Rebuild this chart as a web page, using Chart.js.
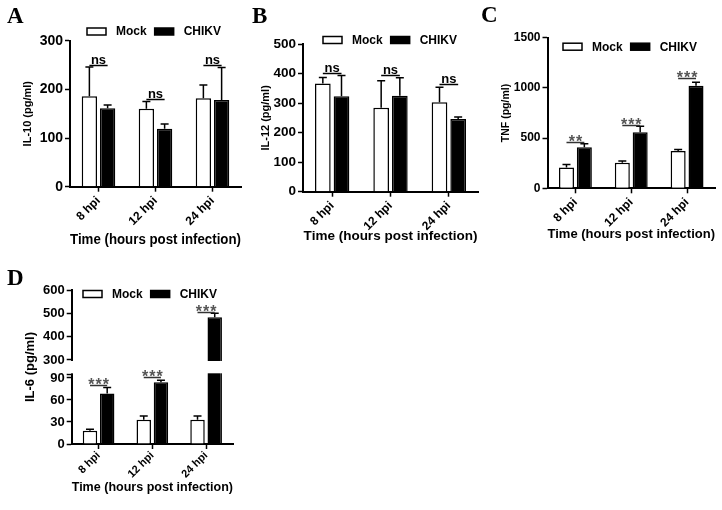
<!DOCTYPE html>
<html>
<head>
<meta charset="utf-8">
<script src="https://cdn.jsdelivr.net/npm/chart.js@4/dist/chart.umd.min.js"></script>
<style>
html,body{margin:0;padding:0;background:#fff;}
#wrap{position:relative;width:722px;height:510px;overflow:hidden;background:#fff;}
canvas{position:absolute;}
</style>
</head>
<body>
<div id="wrap">
<canvas id="cA"></canvas>
<canvas id="cB"></canvas>
<canvas id="cC"></canvas>
<canvas id="cD"></canvas>
</div>
<script>
// ---------------- DATA ----------------
const categories = ['8 hpi', '12 hpi', '24 hpi'];
const seriesNames = ['Mock', 'CHIKV'];
const xAxisTitle = 'Time (hours post infection)';

// A: IL-10
const il10Mock = [186, 160, 182];
const il10MockSd = [60, 15, 27];
const il10Chikv = [161, 119, 178];
const il10ChikvSd = [7, 10, 67];
const il10Sig = ['ns', 'ns', 'ns'];
const il10SigAt = [251, 180, 250];
const il10Ticks = [0, 100, 200, 300];

// B: IL-12
const il12Mock = [366, 284, 303];
const il12MockSd = [21, 92, 51];
const il12Chikv = [323, 325, 246];
const il12ChikvSd = [70, 61, 7];
const il12Sig = ['ns', 'ns', 'ns'];
const il12SigAt = [403, 396, 365];
const il12Ticks = [0, 100, 200, 300, 400, 500];

// C: TNF
const tnfMock = [208, 255, 371];
const tnfMockSd = [28, 17, 15];
const tnfChikv = [408, 559, 1022];
const tnfChikvSd = [35, 58, 35];
const tnfSig = ['**', '***', '***'];
const tnfSigAt = [460, 635, 1095];
const tnfTicks = [0, 500, 1000, 1500];

// D: IL-6 (broken axis)
const il6Mock = [18, 33, 33];
const il6MockSd = [2, 5, 5];
const il6Chikv = [69, 84, 483];
const il6ChikvSd = [8, 3, 17];
const il6Sig = ['***', '***', '***'];
const il6SigAt = [80, 91, 506];
const il6Ticks = [0, 30, 60, 90, 300, 400, 500, 600];

// ---------------- SETUP ----------------
const SANS = 'Arial, "Liberation Sans", Helvetica, sans-serif';
const SERIF = '"Liberation Serif", "Times New Roman", Times, serif';
Chart.defaults.font.family = SANS;
Chart.defaults.font.weight = 'bold';
Chart.defaults.color = '#000';

// Linear scale with a break (two linear segments and a gap)
class BrokenLinearScale extends Chart.LinearScale {
  _seg() {
    const b = this.options.brokenAxis;
    return {lo: b.low, hi: b.high, fl: b.lowFraction, fg: b.gapFraction};
  }
  getPixelForValue(value) {
    if (value === null || value === undefined || isNaN(value)) return NaN;
    const {lo, hi, fl, fg} = this._seg();
    const min = this.min, max = this.max;
    let d;
    if (value <= lo) d = (value - min) / (lo - min) * fl;
    else if (value < hi) d = fl + (value - lo) / (hi - lo) * fg;
    else d = fl + fg + (value - hi) / (max - hi) * (1 - fl - fg);
    return this.getPixelForDecimal(d);
  }
  getValueForPixel(pixel) {
    const {lo, hi, fl, fg} = this._seg();
    const d = this.getDecimalForPixel(pixel);
    if (d <= fl) return this.min + d / fl * (lo - this.min);
    if (d < fl + fg) return lo + (d - fl) / fg * (hi - lo);
    return hi + (d - fl - fg) / (1 - fl - fg) * (this.max - hi);
  }
}
BrokenLinearScale.id = 'brokenLinear';
BrokenLinearScale.defaults = Chart.LinearScale.defaults;
Chart.register(BrokenLinearScale);

const decoPlugin = {
  id: 'deco',
  afterDatasetsDraw(chart, args, o) {
    const ctx = chart.ctx, ca = chart.chartArea, ys = chart.scales.y;
    ctx.save();
    // gap of the broken axis
    if (o.gap) {
      const yT = ys.getPixelForValue(o.gap[1]);
      const yB = ys.getPixelForValue(o.gap[0]);
      ctx.fillStyle = '#fff';
      ctx.fillRect(ca.left - 4, yT + 1, ca.right - ca.left + 8, yB - yT - 2);
    }
    // error bars (upper only)
    chart.data.datasets.forEach((ds, di) => {
      const meta = chart.getDatasetMeta(di);
      meta.data.forEach((bar, i) => {
        const v = ds.data[i], e = ds.errors[i];
        const y0 = ys.getPixelForValue(v), y1 = ys.getPixelForValue(v + e);
        ctx.strokeStyle = '#000';
        ctx.lineWidth = 1.5;
        ctx.beginPath();
        ctx.moveTo(bar.x, y0);
        ctx.lineTo(bar.x, y1);
        ctx.moveTo(bar.x - 4, y1);
        ctx.lineTo(bar.x + 4, y1);
        ctx.stroke();
      });
    });
    // significance brackets
    const m0 = chart.getDatasetMeta(0), m1 = chart.getDatasetMeta(1);
    o.sig.forEach((lab, i) => {
      const x1 = m0.data[i].x, x2 = m1.data[i].x;
      const y = Math.round(ys.getPixelForValue(o.sigAt[i])) + 0.5;
      ctx.strokeStyle = o.sigLineColor;
      ctx.lineWidth = 1.5;
      ctx.beginPath();
      ctx.moveTo(x1, y);
      ctx.lineTo(x2, y);
      ctx.stroke();
      ctx.textAlign = 'center';
      ctx.textBaseline = 'alphabetic';
      if (lab.indexOf('*') >= 0) {
        ctx.font = 'bold 16px ' + SANS;
        ctx.fillStyle = o.sigTextColor;
        try { ctx.letterSpacing = '1px'; } catch (e) {}
        ctx.fillText(lab, (x1 + x2) / 2 + 0.5, y + 4.5);
        try { ctx.letterSpacing = '0px'; } catch (e) {}
      } else {
        ctx.font = 'bold 13px ' + SANS;
        ctx.fillStyle = o.sigTextColor;
        ctx.fillText(lab, (x1 + x2) / 2, y - 2);
      }
    });
    ctx.restore();
  },
  afterDraw(chart, args, o) {
    const ctx = chart.ctx;
    ctx.save();
    // panel letter
    ctx.font = 'bold 23px ' + SERIF;
    ctx.fillStyle = '#000';
    ctx.textAlign = 'left';
    ctx.textBaseline = 'alphabetic';
    ctx.fillText(o.letter, o.letterX, o.letterY);
    // legend
    ctx.font = 'bold 12px ' + SANS;
    ctx.textBaseline = 'middle';
    let x = o.legendX;
    const yc = o.legendY, bw = o.boxW, bh = 7;
    chart.data.datasets.forEach((ds) => {
      ctx.fillStyle = ds.backgroundColor;
      ctx.fillRect(x, yc - bh / 2, bw, bh);
      ctx.strokeStyle = '#000';
      ctx.lineWidth = 1.5;
      ctx.strokeRect(x, yc - bh / 2, bw, bh);
      x += bw + 10;
      ctx.fillStyle = '#000';
      ctx.fillText(ds.label, x, yc + 0.5);
      x += ctx.measureText(ds.label).width + 8;
    });
    ctx.restore();
  }
};

function panel(id, g, d) {
  const cv = document.getElementById(id);
  cv.width = g.cw; cv.height = g.ch;
  cv.style.left = g.cx + 'px'; cv.style.top = g.cy + 'px';
  cv.style.width = g.cw + 'px'; cv.style.height = g.ch + 'px';
  const L = g.left - g.cx, R = g.right - g.cx, T = g.top - g.cy, B = g.bottom - g.cy;
  const xH = g.ch - B;
  const xLh = g.xTitleSize * 1.2;
  const xTitlePadBottom = g.ch - (g.xTitleY - g.cy) - xLh / 2;
  const yLh = g.yTitleSize * 1.2;
  const yTitlePadTop = (g.yTitleX - g.cx) - yLh / 2;
  const tickList = d.ticks.concat(d.extraTicks || []);

  const yScale = {
    type: g.broken ? 'brokenLinear' : 'linear',
    min: d.ticks[0],
    max: d.ticks[d.ticks.length - 1],
    afterBuildTicks: (s) => { s.ticks = tickList.map(v => ({value: v})); },
    afterFit: (s) => { s.width = L; },
    grid: {display: true, drawOnChartArea: false, drawTicks: true, tickLength: 5, tickWidth: 1.5, tickColor: '#000'},
    border: {display: true, color: '#000', width: 2},
    ticks: {
      font: {size: g.yTickSize, weight: 'bold'}, color: '#000', padding: 2,
      callback: (v) => d.ticks.includes(v) ? String(v) : ''
    },
    title: {display: true, text: d.yTitle, color: '#000',
      font: {size: g.yTitleSize, weight: 'bold'}, padding: {top: yTitlePadTop, bottom: 0}}
  };
  if (g.broken) yScale.brokenAxis = g.broken;

  new Chart(cv, {
    type: 'bar',
    data: {
      labels: categories,
      datasets: [
        {label: seriesNames[0], data: d.mock, errors: d.mockSd, backgroundColor: '#fff',
         borderColor: '#000', borderWidth: 1.5},
        {label: seriesNames[1], data: d.chikv, errors: d.chikvSd, backgroundColor: '#000',
         borderColor: '#000', borderWidth: 1.5}
      ]
    },
    options: {
      responsive: false, animation: false, devicePixelRatio: 1,
      layout: {padding: {left: 0, top: T, right: g.cw - R, bottom: 0}},
      datasets: {bar: {categoryPercentage: 0.64, barPercentage: 0.84}},
      plugins: {
        legend: {display: false}, tooltip: {enabled: false},
        deco: {
          letter: d.letter, letterX: g.letterX - g.cx, letterY: g.letterY - g.cy,
          legendX: g.legendX - g.cx, legendY: g.legendY - g.cy, boxW: g.boxW,
          sig: d.sig, sigAt: d.sigAt, sigLineColor: g.sigLineColor, sigTextColor: g.sigTextColor,
          gap: g.broken ? [g.broken.low, g.broken.high] : null
        }
      },
      scales: {
        x: {
          offset: true,
          afterFit: (s) => { s.height = xH; },
          grid: {display: true, drawOnChartArea: false, offset: false, drawTicks: true, tickLength: 5, tickWidth: 1.5, tickColor: '#000'},
          border: {display: true, color: '#000', width: 2},
          ticks: {font: {size: g.xTickSize, weight: 'bold'}, color: '#000', maxRotation: 45, minRotation: 45, padding: g.xTickPad, autoSkip: false},
          title: {display: true, text: xAxisTitle, color: '#000',
            font: {size: g.xTitleSize, weight: 'bold'}, padding: {top: 0, bottom: xTitlePadBottom}}
        },
        y: yScale
      }
    },
    plugins: [decoPlugin]
  });
}

panel('cA', {cx: 0, cy: 0, cw: 248, ch: 252, left: 70, right: 241, top: 40.7, bottom: 186.7,
  yTitleX: 28, xTitleY: 240, yTitleSize: 11, xTitleSize: 14.5, yTickSize: 14, xTickSize: 12, xTickPad: 2,
  letterX: 7, letterY: 23.3, legendX: 87, legendY: 31.5, boxW: 19,
  sigLineColor: '#000', sigTextColor: '#000'},
  {letter: 'A', yTitle: 'IL-10 (pg/ml)', mock: il10Mock, mockSd: il10MockSd, chikv: il10Chikv,
   chikvSd: il10ChikvSd, sig: il10Sig, sigAt: il10SigAt, ticks: il10Ticks});

panel('cB', {cx: 246, cy: 0, cw: 236, ch: 252, left: 303, right: 478, top: 44, bottom: 191.7,
  yTitleX: 266, xTitleY: 236, yTitleSize: 11, xTitleSize: 13.5, yTickSize: 13.5, xTickSize: 12, xTickPad: 2,
  letterX: 252, letterY: 23.3, legendX: 323, legendY: 40, boxW: 19,
  sigLineColor: '#000', sigTextColor: '#000'},
  {letter: 'B', yTitle: 'IL-12 (pg/ml)', mock: il12Mock, mockSd: il12MockSd, chikv: il12Chikv,
   chikvSd: il12ChikvSd, sig: il12Sig, sigAt: il12SigAt, ticks: il12Ticks});

panel('cC', {cx: 479, cy: 0, cw: 243, ch: 252, left: 547.5, right: 715, top: 37.7, bottom: 188.3,
  yTitleX: 506, xTitleY: 234, yTitleSize: 10.5, xTitleSize: 13.7, yTickSize: 12, xTickSize: 12, xTickPad: 2,
  letterX: 481, letterY: 22, legendX: 563, legendY: 46.7, boxW: 19,
  sigLineColor: '#333', sigTextColor: '#555'},
  {letter: 'C', yTitle: 'TNF (pg/ml)', mock: tnfMock, mockSd: tnfMockSd, chikv: tnfChikv,
   chikvSd: tnfChikvSd, sig: tnfSig, sigAt: tnfSigAt, ticks: tnfTicks});

panel('cD', {cx: 0, cy: 255, cw: 248, ch: 255, left: 71.7, right: 233, top: 290, bottom: 444,
  yTitleX: 30, xTitleY: 487, yTitleSize: 13, xTitleSize: 13.6, yTickSize: 13, xTickSize: 11, xTickPad: 0,
  letterX: 7, letterY: 285, legendX: 83, legendY: 294, boxW: 19,
  sigLineColor: '#333', sigTextColor: '#555',
  broken: {low: 95, high: 300, lowFraction: 0.4526, gapFraction: 0.0929}},
  {letter: 'D', yTitle: 'IL-6 (pg/ml)', mock: il6Mock, mockSd: il6MockSd, chikv: il6Chikv,
   chikvSd: il6ChikvSd, sig: il6Sig, sigAt: il6SigAt, ticks: il6Ticks, extraTicks: [95]});
</script>
</body>
</html>
